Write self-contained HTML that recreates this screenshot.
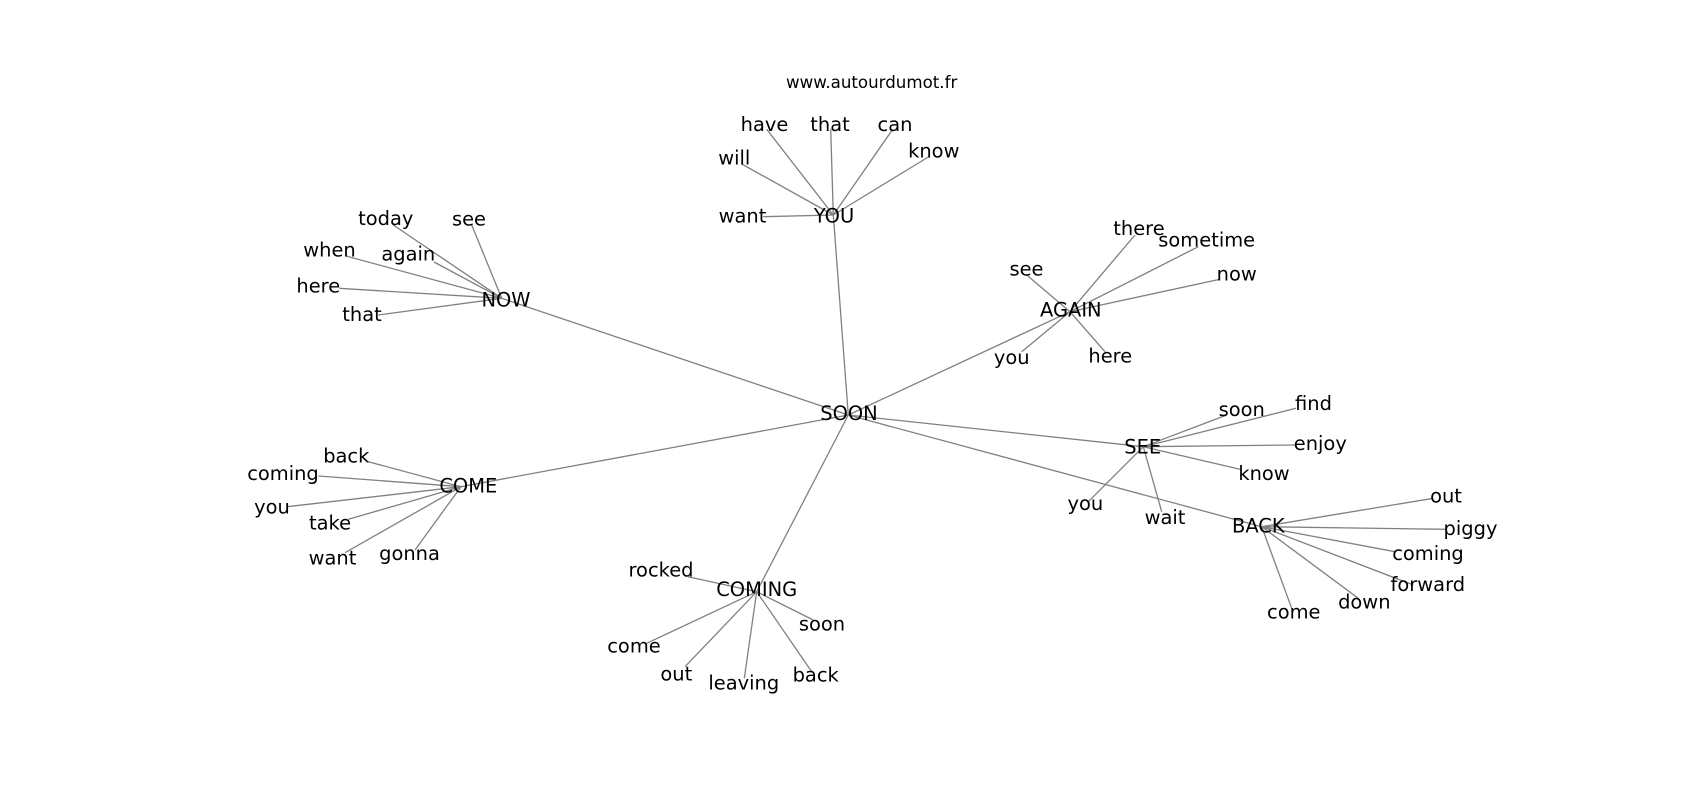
<!DOCTYPE html>
<html>
<head>
<meta charset="utf-8">
<style>
html,body{margin:0;padding:0;background:#fff;}
svg{display:block;}
text{font-family:"DejaVu Sans","Liberation Sans",sans-serif;fill:#000;}
.l{font-size:19.44px;text-anchor:middle;}
.t{font-size:16.67px;}
line{stroke:#808080;stroke-width:1.3;}
</style>
</head>
<body>
<svg width="1700" height="800" viewBox="0 0 1700 800" xmlns="http://www.w3.org/2000/svg">
<rect width="1700" height="800" fill="#fff"/>
<g>
<!-- hub to SOON -->
<line x1="833.3" y1="215" x2="848.3" y2="415"/>
<line x1="501.7" y1="298.3" x2="848.3" y2="415"/>
<line x1="1070" y1="311.7" x2="848.3" y2="415"/>
<line x1="461" y1="486.7" x2="848.3" y2="415"/>
<line x1="756.7" y1="591.7" x2="848.3" y2="415"/>
<line x1="1143.3" y1="446.7" x2="848.3" y2="415"/>
<line x1="1261.7" y1="526.7" x2="848.3" y2="415"/>
<!-- YOU -->
<line x1="833.3" y1="215" x2="766.7" y2="129.3"/>
<line x1="833.3" y1="215" x2="830.7" y2="129.3"/>
<line x1="833.3" y1="215" x2="892.7" y2="129.3"/>
<line x1="833.3" y1="215" x2="930" y2="156"/>
<line x1="833.3" y1="215" x2="741.7" y2="164"/>
<line x1="833.3" y1="215" x2="763.3" y2="216.7"/>
<!-- NOW -->
<line x1="501.7" y1="298.3" x2="393.3" y2="225"/>
<line x1="501.7" y1="298.3" x2="471.7" y2="225"/>
<line x1="501.7" y1="298.3" x2="345" y2="255.7"/>
<line x1="501.7" y1="298.3" x2="434" y2="262"/>
<line x1="501.7" y1="298.3" x2="339.3" y2="288.3"/>
<line x1="501.7" y1="298.3" x2="378.3" y2="315"/>
<!-- AGAIN -->
<line x1="1070" y1="311.7" x2="1135" y2="235"/>
<line x1="1070" y1="311.7" x2="1198.3" y2="246.7"/>
<line x1="1070" y1="311.7" x2="1220" y2="279.3"/>
<line x1="1070" y1="311.7" x2="1026.7" y2="275"/>
<line x1="1070" y1="311.7" x2="1105" y2="351.7"/>
<line x1="1070" y1="311.7" x2="1021.7" y2="351.7"/>
<!-- COME -->
<line x1="461" y1="486.7" x2="368.3" y2="461.7"/>
<line x1="461" y1="486.7" x2="318.3" y2="476"/>
<line x1="461" y1="486.7" x2="287.3" y2="506.7"/>
<line x1="461" y1="486.7" x2="348.3" y2="519.3"/>
<line x1="461" y1="486.7" x2="345" y2="552.7"/>
<line x1="461" y1="486.7" x2="415" y2="550"/>
<!-- COMING -->
<line x1="756.7" y1="591.7" x2="688" y2="576.7"/>
<line x1="756.7" y1="591.7" x2="813.3" y2="620"/>
<line x1="756.7" y1="591.7" x2="646.7" y2="643.3"/>
<line x1="756.7" y1="591.7" x2="685" y2="666.7"/>
<line x1="756.7" y1="591.7" x2="744.3" y2="678.3"/>
<line x1="756.7" y1="591.7" x2="811.7" y2="671.7"/>
<!-- SEE -->
<line x1="1143.3" y1="446.7" x2="1226.7" y2="415"/>
<line x1="1143.3" y1="446.7" x2="1296" y2="408.3"/>
<line x1="1143.3" y1="446.7" x2="1295" y2="445"/>
<line x1="1143.3" y1="446.7" x2="1240" y2="469.3"/>
<line x1="1143.3" y1="446.7" x2="1088.3" y2="501.7"/>
<line x1="1143.3" y1="446.7" x2="1161.7" y2="511.7"/>
<!-- BACK -->
<line x1="1261.7" y1="526.7" x2="1433.3" y2="498.3"/>
<line x1="1261.7" y1="526.7" x2="1446.7" y2="529.3"/>
<line x1="1261.7" y1="526.7" x2="1395" y2="551.7"/>
<line x1="1261.7" y1="526.7" x2="1413.3" y2="585"/>
<line x1="1261.7" y1="526.7" x2="1358.3" y2="598.3"/>
<line x1="1261.7" y1="526.7" x2="1291.7" y2="608.3"/>
</g>
<g>
<text class="t" x="786" y="88">www.autourdumot.fr</text>

<text class="l" x="849" y="420">SOON</text>

<text class="l" x="834" y="222.5">YOU</text>
<text class="l" x="764.5" y="131">have</text>
<text class="l" x="830" y="131">that</text>
<text class="l" x="895" y="131">can</text>
<text class="l" x="933.8" y="157.7">know</text>
<text class="l" x="734.3" y="164.3">will</text>
<text class="l" x="742.5" y="222.5">want</text>

<text class="l" x="506" y="306.7">NOW</text>
<text class="l" x="385.8" y="225">today</text>
<text class="l" x="469" y="225.7">see</text>
<text class="l" x="329.5" y="256.7">when</text>
<text class="l" x="408.3" y="260.5">again</text>
<text class="l" x="318.3" y="292.3">here</text>
<text class="l" x="362" y="321">that</text>

<text class="l" x="1070.8" y="316.7">AGAIN</text>
<text class="l" x="1139" y="235">there</text>
<text class="l" x="1206.7" y="246.7">sometime</text>
<text class="l" x="1236.7" y="280.7">now</text>
<text class="l" x="1026.5" y="275.7">see</text>
<text class="l" x="1110.3" y="362.7">here</text>
<text class="l" x="1011.7" y="364">you</text>

<text class="l" x="468.3" y="492.3">COME</text>
<text class="l" x="346.3" y="462.7">back</text>
<text class="l" x="283" y="480">coming</text>
<text class="l" x="272" y="513.3">you</text>
<text class="l" x="330" y="529.3">take</text>
<text class="l" x="332.5" y="564.3">want</text>
<text class="l" x="409.5" y="560">gonna</text>

<text class="l" x="756.7" y="596">COMING</text>
<text class="l" x="661" y="576.7">rocked</text>
<text class="l" x="822" y="630.7">soon</text>
<text class="l" x="634" y="652.3">come</text>
<text class="l" x="676.3" y="680.7">out</text>
<text class="l" x="743.8" y="689.3">leaving</text>
<text class="l" x="815.7" y="681.7">back</text>

<text class="l" x="1142.7" y="453.3">SEE</text>
<text class="l" x="1241.7" y="416">soon</text>
<text class="l" x="1313.5" y="410">find</text>
<text class="l" x="1320.3" y="450">enjoy</text>
<text class="l" x="1264" y="480">know</text>
<text class="l" x="1085.3" y="510">you</text>
<text class="l" x="1165" y="524">wait</text>

<text class="l" x="1258.3" y="532.7">BACK</text>
<text class="l" x="1446" y="502.7">out</text>
<text class="l" x="1470.5" y="535">piggy</text>
<text class="l" x="1428" y="560">coming</text>
<text class="l" x="1427.8" y="591">forward</text>
<text class="l" x="1364.3" y="608.3">down</text>
<text class="l" x="1293.8" y="618.3">come</text>
</g>
</svg>
</body>
</html>
